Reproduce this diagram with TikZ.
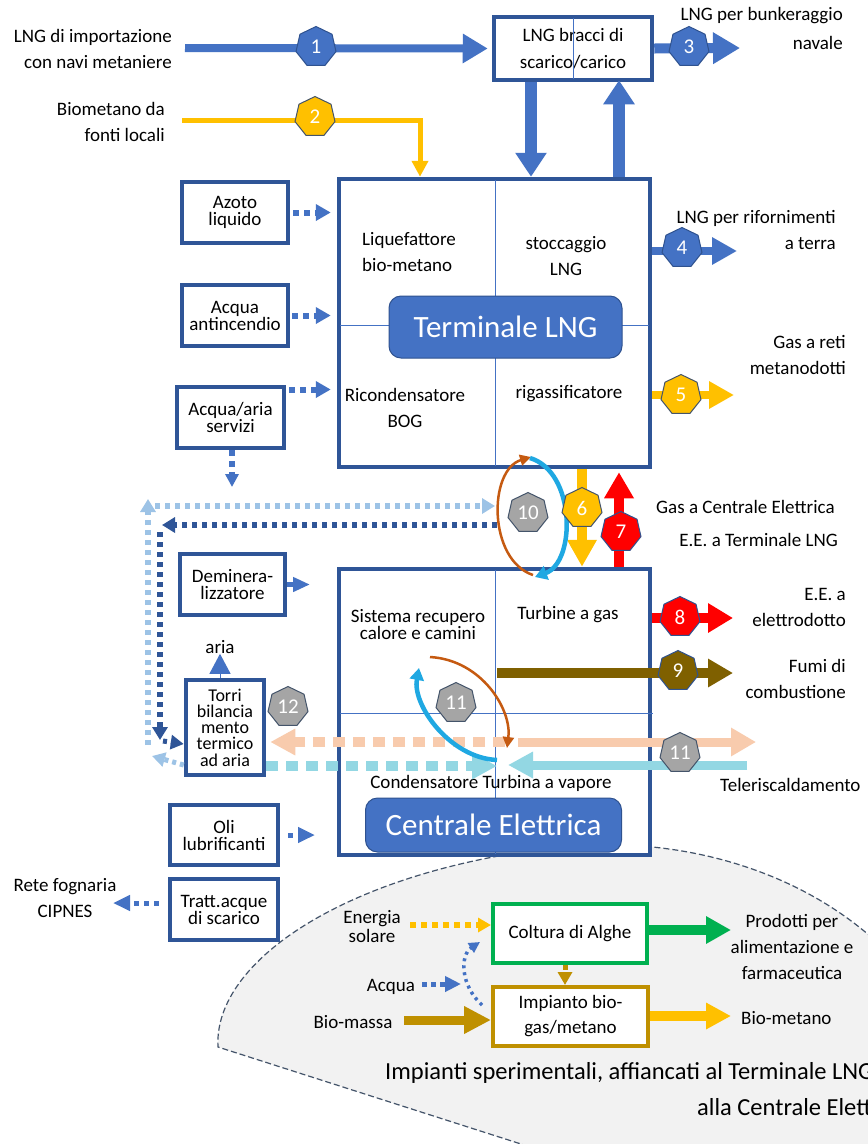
\documentclass[tikz,border=0pt]{standalone}
\usepackage{fontspec}
\setmainfont{Carlito}
\usetikzlibrary{arrows.meta,shapes.geometric,calc}
\definecolor{mblue}{HTML}{4472C4}
\definecolor{bblue}{HTML}{2F5597}
\definecolor{hblue}{HTML}{2F528F}
\definecolor{myel}{HTML}{FFC000}
\definecolor{mred}{HTML}{FF0000}
\definecolor{molive}{HTML}{7F6000}
\definecolor{peach}{HTML}{F8CBAD}
\definecolor{cyanl}{HTML}{93D7E3}
\definecolor{lblue}{HTML}{9DC3E6}
\definecolor{arcor}{HTML}{C55A11}
\definecolor{arcbl}{HTML}{1FA8E2}
\definecolor{mgreen}{HTML}{00B050}
\definecolor{mgold}{HTML}{BF9000}
\definecolor{slate}{HTML}{44546A}
\definecolor{hgrey}{HTML}{A5A5A5}
\definecolor{regfill}{HTML}{F2F2F2}
\begin{document}
\begin{tikzpicture}[x=1pt,y=-1pt,
  txt/.style={font=\fontsize{19}{26}\selectfont, inner sep=0pt, align=center},
  ttxt/.style={font=\fontsize{19}{17}\selectfont, inner sep=0pt, align=center},
  box/.style={draw=bblue, line width=4.5pt, fill=white, inner sep=0pt, align=center, font=\fontsize{19}{17}\selectfont},
  hept/.style={regular polygon, regular polygon sides=7, minimum size=41pt, inner sep=0pt, line width=1pt, text=white, font=\fontsize{21}{21}\selectfont},
  hb/.style={hept, fill=mblue, draw=hblue},
  hy/.style={hept, fill=myel, draw=slate},
  hr/.style={hept, fill=mred, draw=hblue},
  ho/.style={hept, fill=molive, draw=hblue},
  hg/.style={hept, fill=hgrey, draw=slate},
  namelabel/.style={draw=hblue, fill=mblue, rounded corners=12pt, line width=1pt, text=white, inner sep=0pt, font=\fontsize{31}{31}\selectfont},
  dotf/.style={line width=6pt, dash pattern=on 6pt off 5pt, -{Triangle[length=15pt,width=16pt]}},
  ldot/.style={line width=6pt, dash pattern=on 5pt off 5pt, -{Triangle[length=13pt,width=15pt]}},
  thickdash/.style={line width=10pt, dash pattern=on 12pt off 8pt, -{Triangle[length=25pt,width=25pt]}},
  arcO/.style={arcor, line width=2.5pt, -{Triangle[length=11pt,width=11pt]}},
  arcB/.style={arcbl, line width=4.5pt, -{Triangle[length=12pt,width=14pt]}},
  divline/.style={mblue, line width=0.8pt}
]
\useasboundingbox (0,0) rectangle (868,1144);
\fill[white] (0,0) rectangle (868,1144);

% experimental region
\fill[regfill] (218,1047) .. controls (213,960) and (350,870) .. (560,847) .. controls (680,835) and (800,870) .. (880,945) -- (880,1160) -- (571,1160) -- cycle;
\draw[slate, line width=1.2pt, dash pattern=on 6pt off 3pt] (571,1160) -- (218,1047) .. controls (213,960) and (350,870) .. (560,847) .. controls (680,835) and (800,870) .. (880,945);

% coordinates
\coordinate (s1) at (185,48);
\coordinate (s2) at (182,120);
\coordinate (d420) at (420,0);
\coordinate (x531) at (531,0);
\coordinate (x619) at (619,0);
\coordinate (x582) at (582,0);
\coordinate (x565) at (565,0);
\coordinate (e3) at (740,48);
\coordinate (e4) at (737,251);
\coordinate (e5) at (734,395);
\coordinate (e8) at (733,618);
\coordinate (s9) at (497,673);
\coordinate (e9) at (733,673);

% main boxes
\node[box, minimum width=158pt, minimum height=63pt, font=\fontsize{19}{27}\selectfont] (bracci) at (573,48.5) {LNG bracci di\\scarico/carico};
\draw[divline] (573,18) -- (573,79);
\node[box, minimum width=311pt, minimum height=288pt] (term) at (494.5,323) {};
\draw[divline] (495,180) -- (495,466);
\draw[divline] (340,325) -- (649,325);
\node[box, minimum width=311pt, minimum height=286pt] (cent) at (494.5,712) {};
\draw[divline] (495,570) -- (495,854);
\draw[divline] (340,713) -- (653,713);

% side boxes
\node[box, minimum width=106pt, minimum height=61pt] (azoto) at (235,212.5) {Azoto\\liquido};
\node[box, minimum width=106pt, minimum height=61pt] (antinc) at (235,315.5) {Acqua\\antincendio};
\node[box, minimum width=107pt, minimum height=61pt] (acqua) at (230.5,417.5) {Acqua/aria\\servizi};
\node[box, minimum width=105pt, minimum height=61pt] (demin) at (232.5,584.5) {Deminera-\\lizzatore};
\node[box, minimum width=78pt, minimum height=95pt, font=\fontsize{18}{16.3}\selectfont] (torri) at (225,727.5) {Torri\\bilancia\\mento\\termico\\ad aria};
\node[box, minimum width=108pt, minimum height=60pt] (oli) at (224,835) {Oli\\lubrificanti};
\node[box, minimum width=108pt, minimum height=61pt] (tratt) at (224,909.5) {Tratt.acque\\di scarico};
\node[box, draw=mgreen, line width=4pt, minimum width=154pt, minimum height=59pt] (alghe) at (570,933.5) {Coltura di Alghe};
\node[box, draw=mgold, line width=4pt, minimum width=155pt, minimum height=59pt, font=\fontsize{19}{25}\selectfont] (biogas) at (570.5,1016.5) {Impianto bio-\\gas/metano};

% texts
\node[txt, align=right, anchor=east] (lngimp) at (172,49) {LNG di importazione\\con navi metaniere};
\node[txt, align=right, anchor=east] (biomet) at (165,122) {Biometano da\\fonti locali};
\node[txt, align=right, anchor=east, font=\fontsize{19}{29}\selectfont] (bunk) at (843,28) {LNG per bunkeraggio\\navale};
\node[txt, align=right, anchor=east] (rif) at (836,230) {LNG per rifornimenti\\a terra};
\node[txt, align=right, anchor=east] (reti) at (846,355) {Gas a reti\\metanodotti};
\node[txt, anchor=west] (gasce) at (656,507) {Gas a Centrale Elettrica};
\node[txt, anchor=east] (eeterm) at (838,540) {E.E. a Terminale LNG};
\node[txt, align=right, anchor=east] (eeel) at (846,607) {E.E. a\\elettrodotto};
\node[txt, align=right, anchor=east] (fumi) at (846,679) {Fumi di\\combustione};
\node[txt, anchor=west] (telr) at (720,785) {Teleriscaldamento};
\node[txt] (rete) at (65,898) {Rete fognaria\\CIPNES};
\node[txt] (aria) at (220,647) {aria};
\node[txt, align=left, anchor=west] (liq) at (362,252) {Liquefattore\\bio-metano};
\node[txt] (stocc) at (566,256) {stoccaggio\\LNG};
\node[txt] (ricond) at (405,408) {Ricondensatore\\BOG};
\node[txt] (rigas) at (569,394) {rigassificatore};
\node[ttxt] (sistema) at (418,625) {Sistema recupero\\calore e camini};
\node[txt] (turbg) at (568,615) {Turbine a gas};
\node[txt] (condens) at (491,783) {Condensatore Turbina a vapore};
\node[txt, font=\fontsize{19}{19}\selectfont] (energia) at (372,927) {Energia\\solare};
\node[txt] (acquab) at (391,987) {Acqua};
\node[txt] (biomassa) at (353,1022) {Bio-massa};
\node[txt] (prod) at (792,947) {Prodotti per\\alimentazione e\\farmaceutica};
\node[txt, anchor=west] (biometb) at (741,1018) {Bio-metano};
\node[txt, anchor=west, font=\fontsize{24.5}{24.5}\selectfont] (imp1) at (385,1073) {Impianti sperimentali, affiancati al Terminale LNG e};
\node[txt, anchor=west, font=\fontsize{24.5}{24.5}\selectfont] (imp2) at (697,1107) {alla Centrale Elettrica};

% main flows
\draw[mblue, line width=8pt, -{Triangle[length=25pt,width=28pt]}, shorten >=4pt] (s1) -- (bracci.west);
\draw[myel, line width=5pt, -{Triangle[length=16pt,width=16pt]}] (s2) -| (term.north -| d420);
\draw[mblue, line width=10pt, -{Triangle[length=27pt,width=30pt]}] (bracci.east) -- (e3);
\draw[mblue, line width=12pt, -{Triangle[length=24pt,width=30pt]}] (bracci.south -| x531) -- (term.north -| x531);
\draw[mblue, line width=12pt, -{Triangle[length=24pt,width=30pt]}, shorten >=-2pt] (term.north -| x619) -- (bracci.south -| x619);
\draw[mblue, line width=8pt, -{Triangle[length=25pt,width=26pt]}] (term.east |- e4) -- (e4);
\draw[myel, line width=8pt, -{Triangle[length=25pt,width=26pt]}] (term.east |- e5) -- (e5);
\draw[myel, line width=10pt, -{Triangle[length=27pt,width=28pt]}] (term.south -| x582) -- (cent.north -| x582);
\draw[mred, line width=10pt, -{Triangle[length=26pt,width=28pt]}, shorten >=3pt] (cent.north -| x619) -- (term.south -| x619);
\draw[mred, line width=10pt, -{Triangle[length=25pt,width=28pt]}] (cent.east |- e8) -- (e8);
\draw[molive, line width=10pt, -{Triangle[length=25pt,width=27pt]}] (s9) -- (e9);

% side dotted inputs
\coordinate (aq) at ([yshift=28pt]acqua.east);
\draw[mblue, dotf, shorten <=3pt, shorten >=6pt] (azoto.east) -- (azoto.east -| term.west);
\draw[mblue, dotf, shorten <=2pt, shorten >=6pt] (antinc.east) -- (antinc.east -| term.west);
\draw[mblue, dotf, shorten <=3pt, shorten >=6pt] (aq) -- (aq -| term.west);
\coordinate (aqd) at (232,487);
\draw[mblue, line width=6pt, dash pattern=on 6pt off 5pt, -{Triangle[length=13pt,width=13pt]}] (acqua.south -| aqd) -- (aqd);
\coordinate (dm) at (310,0);
\draw[mblue, line width=5pt, -{Triangle[length=17pt,width=14pt]}] (demin.east) -- (demin.east -| dm);
\draw[mblue, line width=1pt, -{Triangle[length=20pt,width=21pt]}] ([xshift=-5pt]torri.north) -- (aria.south);
\coordinate (ol) at (315,0);
\draw[mblue, line width=5pt, dash pattern=on 5pt off 5pt, -{Triangle[length=17pt,width=15pt]}, shorten <=8pt] (oli.east) -- (oli.east -| ol);
\coordinate (tr) at (113,903);
\draw[mblue, line width=5pt, dash pattern=on 5pt off 5pt, -{Triangle[length=17pt,width=15pt]}, shorten <=9pt] (tratt.west |- tr) -- (tr);

% long dotted loops
\coordinate (k1) at (497,525);
\coordinate (k2) at (162,525);
\coordinate (k3) at (160,532);
\coordinate (k4) at (160,740);
\coordinate (k4b) at (163,741);
\coordinate (k5) at (0,744);
\draw[bblue, ldot] (k1) -- (k2);
\draw[bblue, ldot] (k3) -- (k4);
\draw[bblue, line width=5pt, dash pattern=on 4pt off 4pt, -{Triangle[length=13pt,width=14pt]}] (k4b) -- (torri.west |- k5);
\coordinate (l1) at (148,745);
\coordinate (l2) at (148,499);
\coordinate (l3) at (155,506);
\coordinate (l4) at (495,506);
\coordinate (l5) at (0,765);
\coordinate (l6) at (152,756);
\draw[lblue, ldot] (l1) -- (l2);
\draw[lblue, ldot] (l3) -- (l4);
\draw[lblue, line width=5pt, dash pattern=on 4pt off 4pt, -{Triangle[length=13pt,width=14pt]}] (torri.west |- l5) -- (l6);

% heat exchange flows
\coordinate (p1) at (505,742);
\coordinate (p3) at (518,742);
\coordinate (p4) at (756,742);
\coordinate (c1) at (0,766);
\coordinate (c2) at (497,766);
\coordinate (c3) at (747,765);
\coordinate (c4) at (508,765);
\draw[peach, thickdash, shorten >=4pt] (p1) -- (torri.east |- p1);
\draw[peach, line width=9pt, -{Triangle[length=25pt,width=27pt]}] (p3) -- (p4);
\draw[cyanl, thickdash] (torri.east |- c1) -- (c2);
\draw[cyanl, line width=9pt, -{Triangle[length=25pt,width=25pt]}] (c3) -- (c4);

% circular arrows
\draw[arcO] (533,575) .. controls (488,560) and (488,470) .. (531,457);
\draw[arcB] (530,458) .. controls (576,472) and (576,562) .. (535,577);
\draw[arcO] (430,657) .. controls (482,660) and (512,710) .. (507,748);
\draw[arcB] (497,760) .. controls (450,758) and (412,705) .. (419,668);

% labels of the plants
\node[namelabel, minimum width=233pt, minimum height=62pt] (tlabel) at (505.5,327) {Terminale LNG};
\node[namelabel, minimum width=256pt, minimum height=54pt] (clabel) at (493.5,825) {Centrale Elettrica};

% experimental flows
\coordinate (en) at (410,925);
\draw[myel, line width=6pt, dash pattern=on 6pt off 5pt, -{Triangle[length=13pt,width=14pt]}] (en) -- (alghe.west |- en);
\coordinate (aqa) at (422,984);
\coordinate (aqb) at (461,984);
\draw[mblue, line width=5pt, dash pattern=on 5pt off 4pt, -{Triangle[length=16pt,width=15pt]}] (aqa) -- (aqb);
\coordinate (cva) at (482,1005);
\coordinate (cvb) at (480,942);
\draw[mblue, line width=3.5pt, dash pattern=on 3pt off 4pt, -{Triangle[length=11pt,width=11pt]}] (cva) .. controls (460,985) and (460,955) .. (cvb);
\coordinate (bms) at (404,1020);
\draw[mgold, line width=9pt, -{Triangle[length=27pt,width=26pt]}] (bms) -- (biogas.west |- bms);
\draw[mgold, line width=5pt, dash pattern=on 5pt off 4pt, -{Triangle[length=13pt,width=14pt]}] (alghe.south -| x565) -- (biogas.north -| x565);
\coordinate (gr) at (731,930);
\draw[mgreen, line width=10pt, -{Triangle[length=25pt,width=26pt]}] (alghe.east |- gr) -- (gr);
\coordinate (yb) at (731,1016);
\draw[myel, line width=10pt, -{Triangle[length=25pt,width=25pt]}] (biogas.east |- yb) -- (yb);

% heptagons
\node[hb] (h1) at (316,47) {1};
\node[hy] (h2) at (315,117) {2};
\node[hb] (h3) at (689,47) {3};
\node[hb] (h4) at (682,248) {4};
\node[hy] (h5) at (681,395) {5};
\node[hy] (h6) at (582,508) {6};
\node[hr] (h7) at (621,532) {7};
\node[hr] (h8) at (680,617) {8};
\node[ho] (h9) at (678,671) {9};
\node[hg] (h10) at (528,513) {10};
\node[hg] (h11a) at (456,703) {11};
\node[hg] (h11b) at (680,753) {11};
\node[hg] (h12) at (288,707) {12};
\end{tikzpicture}
\end{document}
